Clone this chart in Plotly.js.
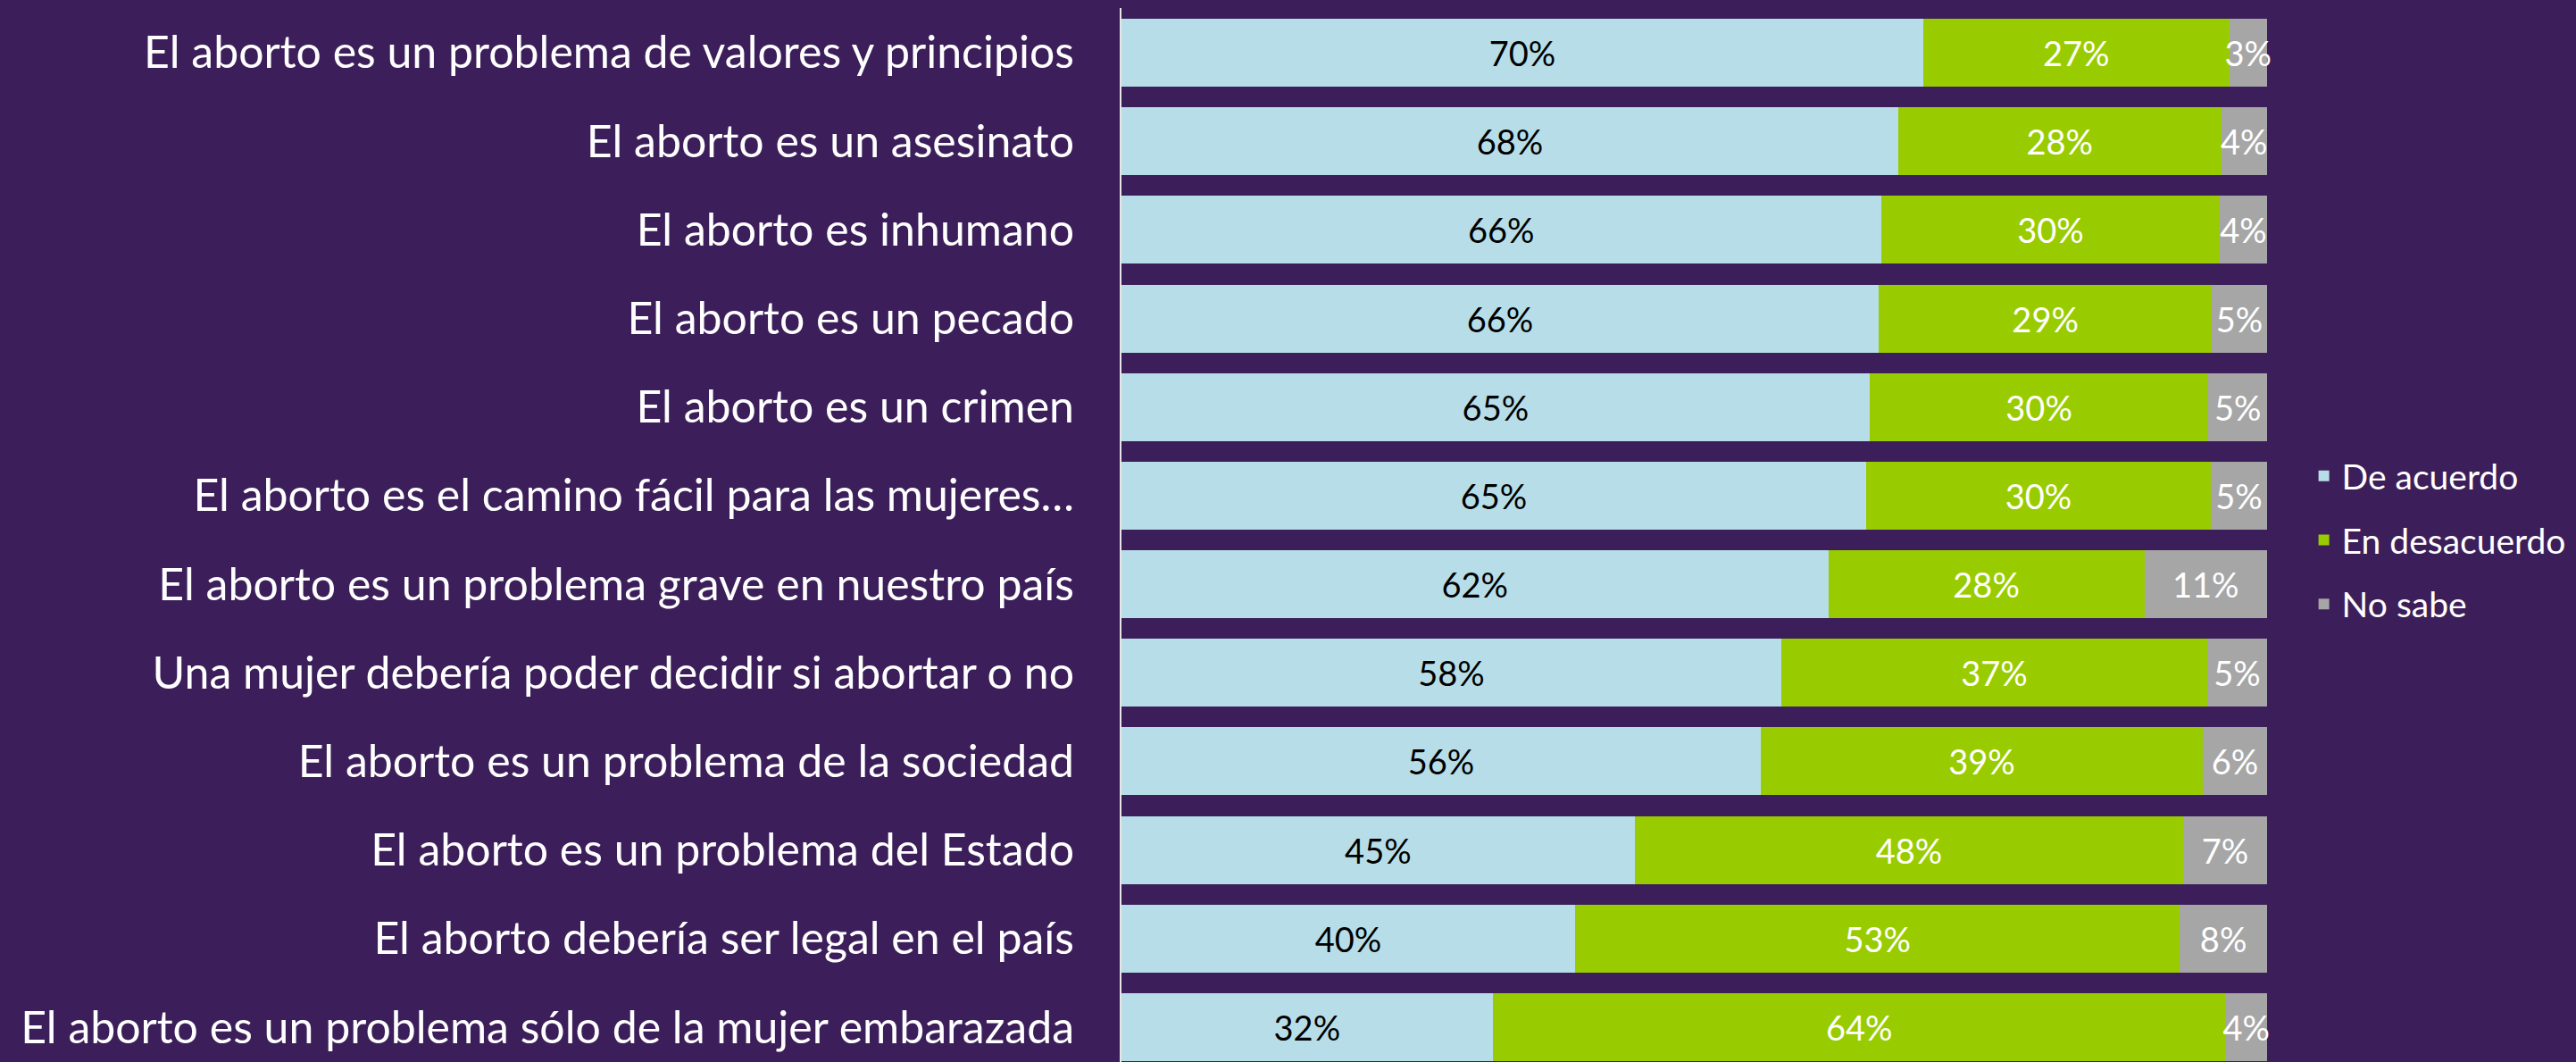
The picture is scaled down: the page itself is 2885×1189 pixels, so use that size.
<!DOCTYPE html>
<html>
<head>
<meta charset="utf-8">
<script src="https://cdn.plot.ly/plotly-3.0.1.min.js"></script>
<style>
  html, body { margin: 0; padding: 0; background: #3C1F5A; overflow: hidden; }
  #chart { width: 2885px; height: 1189px; }
</style>
</head>
<body>
<div id="chart"></div>
<script>
const categories = [
  "El aborto es un problema de valores y principios",
  "El aborto es un asesinato",
  "El aborto es inhumano",
  "El aborto es un pecado",
  "El aborto es un crimen",
  "El aborto es el camino fácil para las mujeres…",
  "El aborto es un problema grave en nuestro país",
  "Una mujer debería poder decidir si abortar o no",
  "El aborto es un problema de la sociedad",
  "El aborto es un problema del Estado",
  "El aborto debería ser legal en el país",
  "El aborto es un problema sólo de la mujer embarazada"
];
const deAcuerdo    = [70.0, 67.8, 66.3, 66.1, 65.3, 65.0, 61.7, 57.6, 55.8, 44.8, 39.6, 32.4];
const enDesacuerdo = [26.7, 28.2, 29.6, 29.1, 29.6, 30.1, 27.6, 37.2, 38.6, 47.9, 52.8, 64.0];
const noSabe       = [ 3.3,  4.0,  4.1,  4.8,  5.1,  4.9, 10.7,  5.2,  5.6,  7.3,  7.6,  3.6];
const seriesNames  = ["De acuerdo", "En desacuerdo", "No sabe"];

const FONT = "Lato, 'Open Sans', sans-serif";

function barTrace(name, values, color, textColor, group) {
  return {
    type: "bar",
    orientation: "h",
    name: name,
    legendgroup: group,
    x: values,
    y: categories,
    marker: { color: color, line: { width: 0 } },
    texttemplate: "%{x:.0f}%",
    textposition: "inside",
    insidetextanchor: "middle",
    constraintext: "none",
    textangle: 0,
    cliponaxis: false,
    textfont: { family: FONT, size: 38, color: textColor },
    hoverinfo: "skip"
  };
}

const data = [
  barTrace(seriesNames[0], deAcuerdo, "#B7DEE8", "#000000", "g1"),
  barTrace(seriesNames[1], enDesacuerdo, "#99CC00", "#FFFFFF", "g2"),
  barTrace(seriesNames[2], noSabe, "#A6A6A6", "#FFFFFF", "g3")
];

const layout = {
  width: 2885,
  height: 1189,
  margin: { l: 1256, r: 346, t: 9, b: 0, pad: 0 },
  paper_bgcolor: "#3C1F5A",
  plot_bgcolor: "#3C1F5A",
  barmode: "stack",
  bargap: 0.234,
  font: { family: FONT, color: "#FFFFFF" },
  xaxis: {
    range: [0, 100.01],
    showgrid: false,
    zeroline: false,
    showline: false,
    showticklabels: false,
    ticks: ""
  },
  yaxis: {
    type: "category",
    categoryorder: "array",
    categoryarray: categories,
    range: [11.393, -0.504],
    showgrid: false,
    zeroline: false,
    showline: true,
    linecolor: "#E6E6E6",
    linewidth: 2,
    ticks: "",
    ticklabelstandoff: 41,
    tickfont: { family: FONT, size: 50, color: "#FFFFFF" }
  },
  showlegend: true,
  legend: {
    x: 1.034,
    xanchor: "left",
    y: 0.495,
    yanchor: "middle",
    traceorder: "grouped",
    tracegroupgap: 18,
    bgcolor: "rgba(0,0,0,0)",
    font: { family: FONT, size: 39, color: "#FFFFFF" }
  }
};

Plotly.newPlot("chart", data, layout, { displayModeBar: false, staticPlot: true });
</script>
</body>
</html>
